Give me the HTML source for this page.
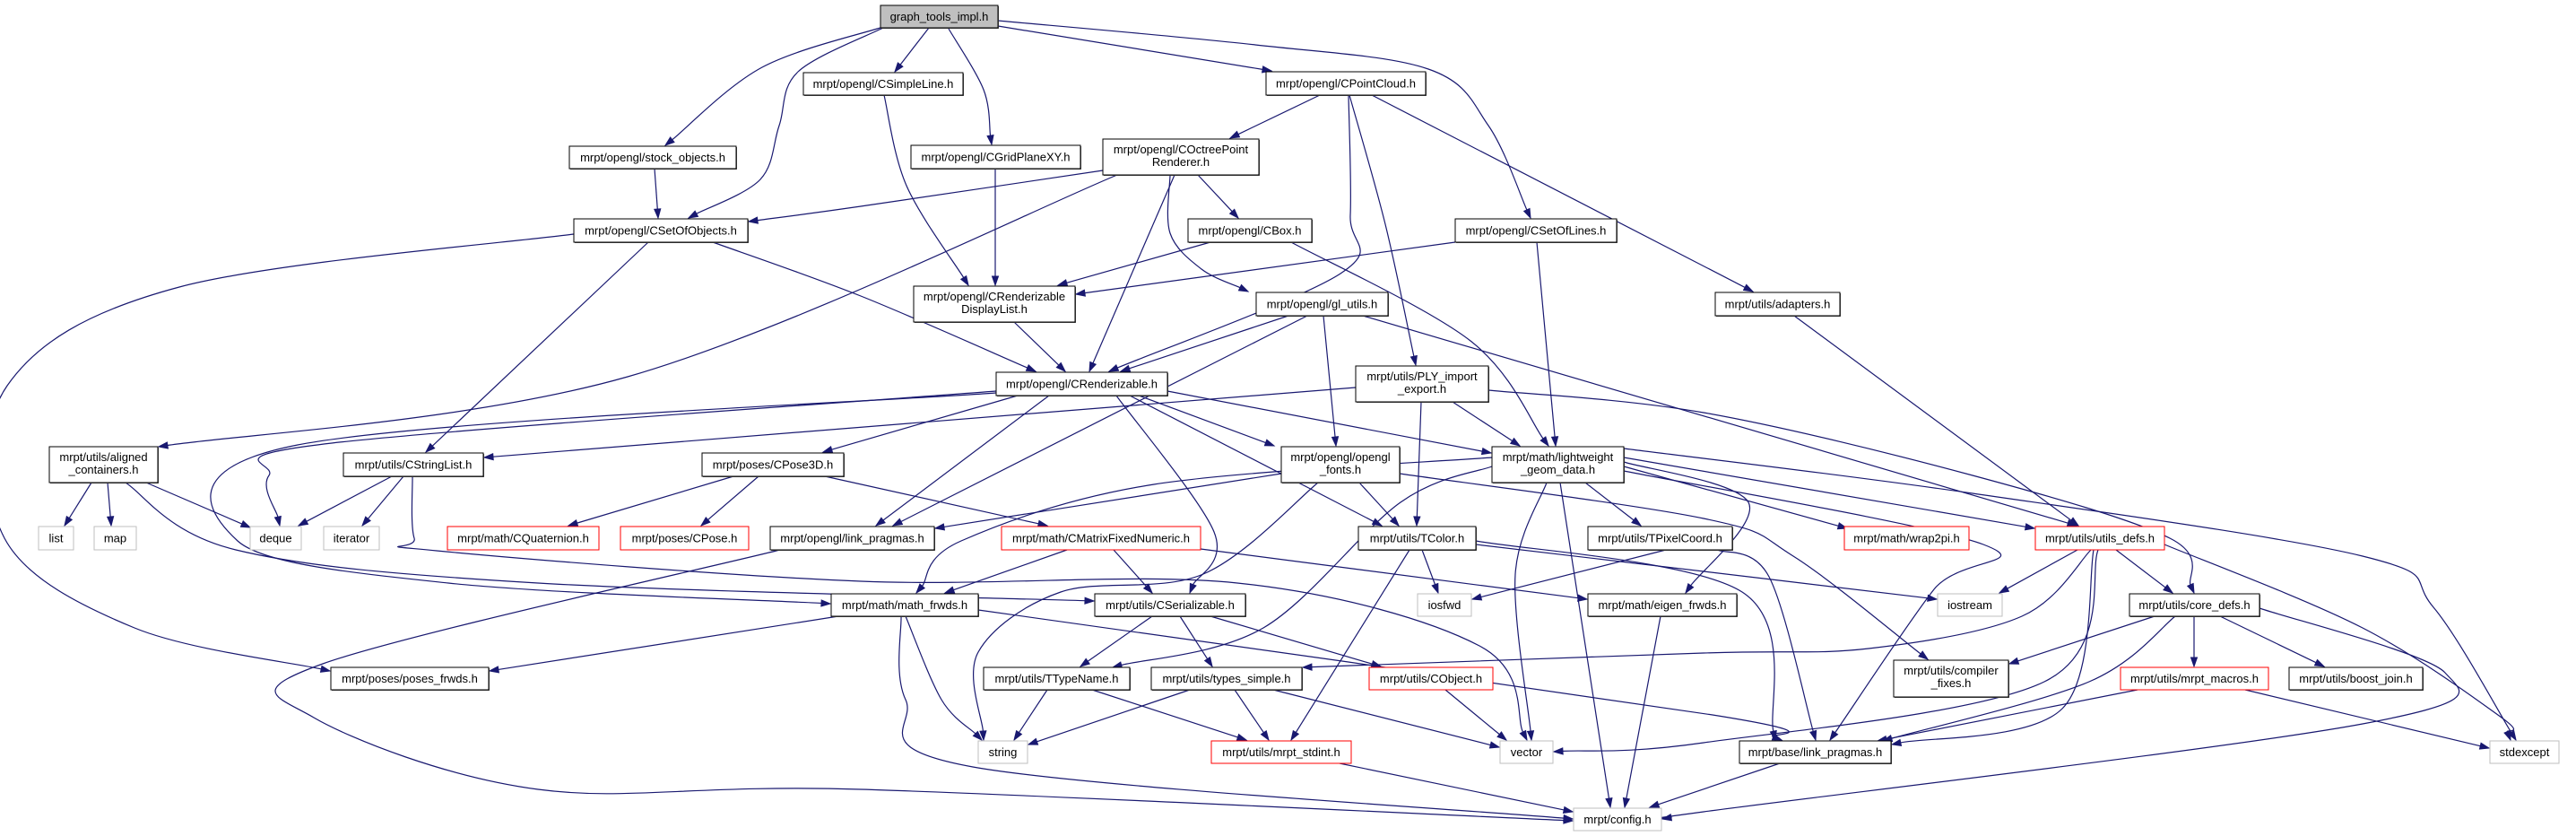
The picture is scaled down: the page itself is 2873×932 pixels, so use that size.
<!DOCTYPE html>
<html><head><meta charset="utf-8">
<style>
html,body{margin:0;padding:0;background:#fff;width:2873px;height:932px;overflow:hidden}
svg{display:block}
text{font-family:"Liberation Sans",sans-serif;font-size:13px;fill:#000}
</style></head>
<body>
<svg id="g" width="2873" height="932" viewBox="0 0 2873 932" xmlns="http://www.w3.org/2000/svg">
<g id="edges" fill="none" stroke="#191970" stroke-width="1.2"></g>
<g id="heads" fill="#191970" stroke="#191970"></g>
<g id="nodes"></g>
</svg>
<script>
var N=[
[982,6,131,25,["graph_tools_impl.h"],3],
[635,163,186,25,["mrpt/opengl/stock_objects.h"],0],
[640,244,194,26,["mrpt/opengl/CSetOfObjects.h"],0],
[896,81,178,25,["mrpt/opengl/CSimpleLine.h"],0],
[1016,162,189,26,["mrpt/opengl/CGridPlaneXY.h"],0],
[1412,80,178,26,["mrpt/opengl/CPointCloud.h"],0],
[1230,155,174,40,["mrpt/opengl/COctreePoint","Renderer.h"],0],
[1325,244,138,26,["mrpt/opengl/CBox.h"],0],
[1623,244,180,26,["mrpt/opengl/CSetOfLines.h"],0],
[1019,319,180,40,["mrpt/opengl/CRenderizable","DisplayList.h"],0],
[1401,326,147,26,["mrpt/opengl/gl_utils.h"],0],
[1111,415,191,26,["mrpt/opengl/CRenderizable.h"],0],
[1512,408,148,40,["mrpt/utils/PLY_import","_export.h"],0],
[1913,326,139,26,["mrpt/utils/adapters.h"],0],
[55,498,121,40,["mrpt/utils/aligned","_containers.h"],0],
[43,587,39,26,["list"],2],
[105,587,47,26,["map"],2],
[279,587,57,26,["deque"],2],
[361,587,62,26,["iterator"],2],
[383,505,156,26,["mrpt/utils/CStringList.h"],0],
[783,505,158,26,["mrpt/poses/CPose3D.h"],0],
[499,587,169,26,["mrpt/math/CQuaternion.h"],1],
[692,587,143,26,["mrpt/poses/CPose.h"],1],
[859,587,183,26,["mrpt/opengl/link_pragmas.h"],0],
[369,744,176,25,["mrpt/poses/poses_frwds.h"],0],
[927,662,164,25,["mrpt/math/math_frwds.h"],0],
[1429,498,132,40,["mrpt/opengl/opengl","_fonts.h"],0],
[1664,498,147,40,["mrpt/math/lightweight","_geom_data.h"],0],
[1117,587,222,26,["mrpt/math/CMatrixFixedNumeric.h"],1],
[1515,587,131,26,["mrpt/utils/TColor.h"],0],
[1771,587,161,26,["mrpt/utils/TPixelCoord.h"],0],
[1221,662,168,25,["mrpt/utils/CSerializable.h"],0],
[1581,662,60,25,["iosfwd"],2],
[1771,662,166,25,["mrpt/math/eigen_frwds.h"],0],
[1097,744,163,25,["mrpt/utils/TTypeName.h"],0],
[1284,744,168,25,["mrpt/utils/types_simple.h"],0],
[1527,744,138,25,["mrpt/utils/CObject.h"],1],
[1091,826,55,25,["string"],2],
[1351,826,156,25,["mrpt/utils/mrpt_stdint.h"],1],
[1673,826,59,25,["vector"],2],
[1755,901,98,25,["mrpt/config.h"],2],
[2057,587,139,26,["mrpt/math/wrap2pi.h"],1],
[2270,587,144,26,["mrpt/utils/utils_defs.h"],1],
[2161,662,72,25,["iostream"],2],
[2375,662,145,25,["mrpt/utils/core_defs.h"],0],
[2112,736,128,41,["mrpt/utils/compiler","_fixes.h"],0],
[2365,744,165,25,["mrpt/utils/mrpt_macros.h"],1],
[2553,744,149,25,["mrpt/utils/boost_join.h"],0],
[1940,826,169,25,["mrpt/base/link_pragmas.h"],0],
[2777,826,77,25,["stdexcept"],2]
];
var E=[
[[985,30],[850,75],[742,162]],
[[985,31],[890,80],[869,140],[848,200],[768,243]],
[[1036,31],[998,80]],
[[1058,32],[1097,100],[1106,161]],
[[1113,29],[1418,79]],
[[1113,23],[1400,50],[1593,77],[1660,140],[1707,243]],
[[986,106],[1011,207],[1080,318]],
[[1110,188],[1110,318]],
[[730,188],[734,243]],
[[1472,106],[1372,154]],
[[1504,106],[1506,240],[1495,305],[1237,414]],
[[1505,106],[1545,250],[1579,407]],
[[1530,106],[1955,325]],
[[1230,190],[960,230],[835,247]],
[[1246,195],[700,420],[177,498]],
[[1310,195],[1215,414]],
[[1336,195],[1381,243]],
[[1305,195],[1305,260],[1340,300],[1392,325]],
[[640,261],[200,320],[8,430],[5,600],[150,700],[368,748]],
[[723,270],[475,504]],
[[795,270],[960,330],[1155,414]],
[[1350,270],[1180,318]],
[[1440,270],[1640,380],[1727,497]],
[[1623,270],[1200,328]],
[[1714,270],[1735,497]],
[[1131,359],[1188,414]],
[[1437,352],[1250,414]],
[[1458,352],[996,586]],
[[1476,352],[1490,497]],
[[1520,352],[2316,586]],
[[1512,432],[540,510]],
[[1620,448],[1695,497]],
[[1585,448],[1580,586]],
[[1660,435],[1900,460],[2200,530],[2420,600],[2447,661]],
[[2001,352],[2318,586]],
[[1111,436],[370,494],[300,530],[312,586]],
[[1111,438],[332,496],[265,603],[500,650],[926,673]],
[[1135,441],[918,504]],
[[1170,441],[977,586]],
[[1245,441],[1354,593],[1327,661]],
[[1260,441],[1541,586]],
[[1270,441],[1421,497]],
[[1302,436],[1663,505]],
[[437,531],[333,586]],
[[450,531],[404,586]],
[[460,531],[462,600],[487,614],[960,648],[1380,650],[1650,720],[1703,825]],
[[102,538],[72,586]],
[[120,538],[124,586]],
[[163,538],[279,588]],
[[140,538],[263,613],[600,650],[1220,670]],
[[818,531],[634,586]],
[[846,531],[782,586]],
[[920,531],[1168,586]],
[[870,613],[360,740],[350,800],[600,880],[960,880],[1754,915]],
[[935,687],[546,748]],
[[1010,687],[1050,780],[1095,825]],
[[1005,687],[1010,780],[1085,855],[1754,913]],
[[1091,680],[1910,797],[1987,825]],
[[1190,613],[1054,661]],
[[1242,613],[1285,661]],
[[1339,612],[1770,668]],
[[1429,528],[1043,589]],
[[1516,538],[1560,586]],
[[1470,538],[1342,640],[1183,660],[1091,727],[1097,825]],
[[1561,528],[1900,578],[2000,620],[2150,735]],
[[1664,510],[1287,540],[1072,603],[1022,661]],
[[1664,520],[1562,560],[1409,700],[1241,744]],
[[1725,538],[1690,640],[1708,825]],
[[1740,538],[1796,900]],
[[1768,538],[1830,586]],
[[1811,520],[2060,589]],
[[1811,510],[2269,589]],
[[1811,500],[2200,550],[2635,620],[2714,677],[2806,825]],
[[1811,515],[1950,560],[1880,661]],
[[1811,525],[2212,607],[2157,657],[2041,825]],
[[1646,607],[1900,637],[2160,668]],
[[2332,613],[2255,687],[2084,723],[1900,728],[1453,744]],
[[1586,613],[1604,661]],
[[1572,613],[1440,825]],
[[1646,603],[1943,660],[1980,825]],
[[1858,613],[1642,668]],
[[1915,613],[1973,643],[2025,825]],
[[1285,687],[1205,743]],
[[1316,687],[1352,743]],
[[1350,687],[1540,743]],
[[1852,687],[1812,900]],
[[1168,769],[1131,825]],
[[1218,769],[1390,825]],
[[1327,769],[1147,830]],
[[1377,769],[1415,825]],
[[1420,769],[1672,833]],
[[1612,769],[1680,825]],
[[1494,851],[1754,905]],
[[1985,851],[1840,900]],
[[2340,613],[2280,760],[1900,828],[1733,838]],
[[2520,678],[2727,750],[2635,807],[1900,905],[1854,913]],
[[2317,613],[2230,661]],
[[2360,613],[2423,661]],
[[2335,613],[2300,790],[2110,830]],
[[2414,607],[2635,700],[2790,800],[2800,825]],
[[2403,687],[2241,740]],
[[2426,687],[2330,760],[2100,826]],
[[2447,687],[2447,743]],
[[2476,687],[2592,743]],
[[2384,769],[2094,826]],
[[2504,769],[2776,834]]
];
var ns="http://www.w3.org/2000/svg";
function el(t,a,p){var e=document.createElementNS(ns,t);for(var k in a)e.setAttribute(k,a[k]);p.appendChild(e);return e;}
var ge=document.getElementById('edges'),gh=document.getElementById('heads'),gn=document.getElementById('nodes');
E.forEach(function(p){
  var n=p.length,end=p[n-1],prev=p[n-2];
  var dx=end[0]-prev[0],dy=end[1]-prev[1],L=Math.sqrt(dx*dx+dy*dy)||1;
  var ux=dx/L,uy=dy/L,al=10;
  var bx=end[0]-ux*al,by=end[1]-uy*al;
  var pts=p.slice();pts[n-1]=[bx,by];
  var d="M"+pts[0][0]+","+pts[0][1];
  if(n==2){d+=" L"+bx+","+by;}
  else{
    for(var i=0;i<n-1;i++){
      var p0=pts[i-1]||pts[i],p1=pts[i],p2=pts[i+1],p3=pts[i+2]||p2;
      var c1=[p1[0]+(p2[0]-p0[0])/6,p1[1]+(p2[1]-p0[1])/6];
      var c2=[p2[0]-(p3[0]-p1[0])/6,p2[1]-(p3[1]-p1[1])/6];
      d+=" C"+c1[0]+","+c1[1]+" "+c2[0]+","+c2[1]+" "+p2[0]+","+p2[1];
    }
  }
  el('path',{d:d},ge);
  var w=3.5;
  el('polygon',{points:end[0]+","+end[1]+" "+(bx-uy*w)+","+(by+ux*w)+" "+(bx+uy*w)+","+(by-ux*w)},gh);
});
N.forEach(function(n){
  var x=n[0],y=n[1],w=n[2],h=n[3],t=n[5];
  var fill=t==3?"#bfbfbf":"#fff",st=t==1?"#ff0000":(t==2?"#bfbfbf":"#000");
  if(t==0||t==3) el('rect',{x:x+1,y:y+1,width:w,height:h,fill:"#555"},gn);
  el('rect',{x:x,y:y,width:w,height:h,fill:fill,stroke:st,'stroke-width':1},gn);
  var lines=n[4];
  lines.forEach(function(s,i){
    var ty=lines.length==1?y+h/2+4.5:y+16+i*14;
    var tx=el('text',{x:x+w/2,y:ty,'text-anchor':'middle'},gn);tx.textContent=s;
  });
});
</script>
</body></html>
